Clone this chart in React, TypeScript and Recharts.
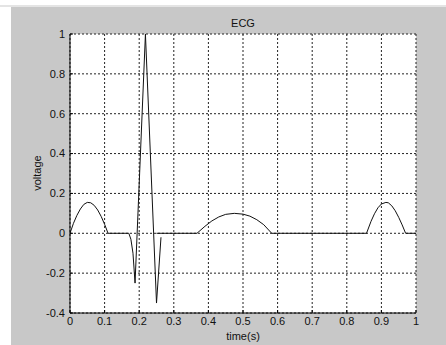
import React from 'react'
import { LineChart, Line, XAxis, YAxis, CartesianGrid } from 'recharts'

// baseline with P wave, T wave and the last bump (null = pen lifted around the QRS)
const mainTime = [0, 0.01, 0.02, 0.03, 0.04, 0.05, 0.06, 0.07, 0.08, 0.09, 0.1, 0.11, 0.17, 0.21, 0.25, 0.367, 0.39, 0.41, 0.43, 0.45, 0.475, 0.5, 0.52, 0.54, 0.56, 0.583, 0.857, 0.87, 0.88, 0.89, 0.9, 0.913, 0.92, 0.93, 0.94, 0.95, 0.96, 0.97, 1]
const mainVolt = [0, 0.05, 0.09, 0.122, 0.145, 0.155, 0.153, 0.14, 0.117, 0.085, 0.045, 0, 0, null, 0, 0, 0.035, 0.062, 0.082, 0.095, 0.1, 0.096, 0.086, 0.068, 0.043, 0, 0, 0.06, 0.098, 0.128, 0.147, 0.155, 0.153, 0.138, 0.113, 0.08, 0.042, 0, 0]

// QRS complex
const qrsTime = [0.17, 0.176, 0.182, 0.188, 0.218, 0.25, 0.263]
const qrsVolt = [0, -0.03, -0.1, -0.25, 1, -0.35, -0.02]

const xTicks = [0, 0.1, 0.2, 0.3, 0.4, 0.5, 0.6, 0.7, 0.8, 0.9, 1]
const yTicks = [-0.4, -0.2, 0, 0.2, 0.4, 0.6, 0.8, 1]

const mainData = mainTime.map((t, i) => ({ t, v: mainVolt[i] }))
const qrsData = qrsTime.map((t, i) => ({ t, v: qrsVolt[i] }))

const font = '"Liberation Sans", Arial, sans-serif'
const tickStyle = { fontSize: 11, fill: '#111', fontFamily: font }

export default function App() {
  return (
    <div style={{ position: 'absolute', left: 0, top: 0, width: 446, height: 345, background: '#fff', fontFamily: font, overflow: 'hidden' }}>
      <div style={{ position: 'absolute', left: 0, top: 5, width: 446, height: 2, background: '#e4e4e4' }} />
      <div style={{ position: 'absolute', left: 11, top: 7, width: 435, height: 338, background: '#c8c8c8' }} />

      <LineChart
        width={446}
        height={345}
        style={{ position: 'absolute', left: 0, top: 0 }}
        margin={{ top: 34, right: 30, bottom: 12, left: 0 }}
      >
        <CartesianGrid
          fill="#fff"
          fillOpacity={1}
          stroke="#222"
          strokeDasharray="2 2"
          verticalPoints={undefined}
        />
        <XAxis
          type="number"
          dataKey="t"
          domain={[0, 1]}
          ticks={xTicks}
          allowDuplicatedCategory={false}
          height={20}
          tickSize={-3}
          tickMargin={7}
          tick={tickStyle}
          axisLine={{ stroke: '#000' }}
          tickLine={{ stroke: '#000' }}
        />
        <YAxis
          type="number"
          domain={[-0.4, 1]}
          ticks={yTicks}
          width={70}
          tickSize={-3}
          tickMargin={8}
          tick={tickStyle}
          axisLine={{ stroke: '#000' }}
          tickLine={{ stroke: '#000' }}
        />
        <Line data={mainData} dataKey="v" stroke="#111" strokeWidth={1} dot={false} activeDot={false} isAnimationActive={false} />
        <Line data={qrsData} dataKey="v" stroke="#111" strokeWidth={1} dot={false} activeDot={false} isAnimationActive={false} />
      </LineChart>

      <div style={{ position: 'absolute', left: 193, width: 100, top: 16, textAlign: 'center', fontSize: 11, color: '#111', lineHeight: '14px' }}>ECG</div>
      <div style={{ position: 'absolute', left: 193, width: 100, top: 329, textAlign: 'center', fontSize: 11, color: '#111', lineHeight: '14px' }}>time(s)</div>
      <div style={{ position: 'absolute', left: -13, width: 100, top: 166, textAlign: 'center', fontSize: 11, color: '#111', lineHeight: '14px', transform: 'rotate(-90deg)' }}>voltage</div>
    </div>
  )
}
